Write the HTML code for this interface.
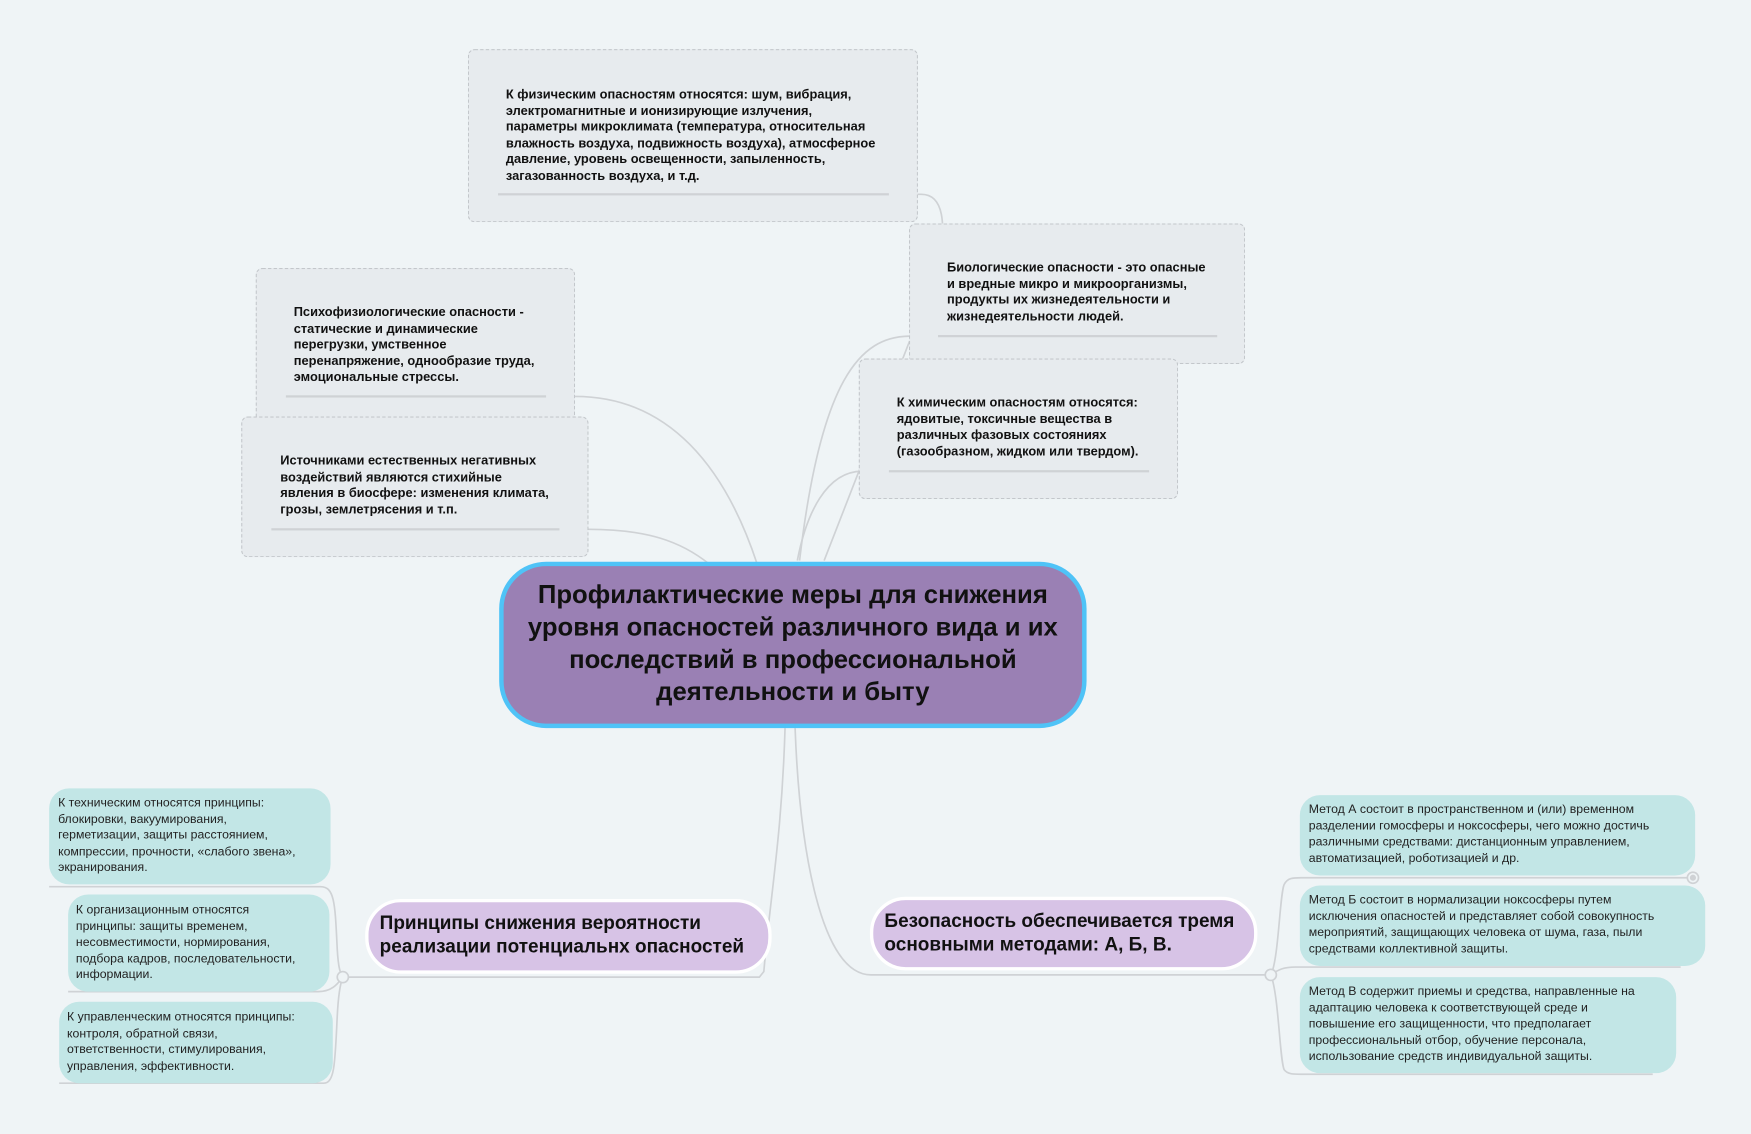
<!DOCTYPE html>
<html><head><meta charset="utf-8"><style>
html,body{margin:0;padding:0;background:#eff4f6;overflow:hidden}
#w{position:absolute;left:0;top:0;width:1568px;height:1015px;transform:scale(1.11671);transform-origin:0 0;font-family:"Liberation Sans",sans-serif}
.b{position:absolute;box-sizing:border-box}
.d{background:#e7ebee;border:1.5px dashed #c3c7cb;border-radius:6px}
.t{position:absolute;white-space:nowrap;color:#111}
.bt{font-weight:bold;font-size:11.5px;line-height:14.6px}
.lf{background:#c2e6e6;border-radius:18px}
.lt{font-size:11px;line-height:14.6px;color:#222}
.sub{background:#d7c3e6;border:3px solid #fff;border-radius:32px}
.st{font-weight:bold;font-size:17px;line-height:21px;color:#111}
svg{position:absolute;left:0;top:0}
</style></head><body><div id="w">
<svg width="1568" height="1015" fill="none" stroke="#cfd2d5" stroke-width="1.5">
<path d="M796,174 L825,174 C845,174 848,200 840,240 L738,502"/>
<path d="M840,301 L815,301 C770,301 735,340 716,502"/>
<path d="M796,422 L772,422 C740,422 722,460 714,502"/>
<path d="M256,355 L515,355 C600,355 650,420 678,505"/>
<path d="M243,474 L527,474 C580,474 610,485 635,505"/>
<path d="M446,174 L796,174"/>
<path d="M840,301 L1090,301"/>
<path d="M703,652 C700,750 690,800 684,870 L680,875 L307,875"/>
<path d="M44,794 L287,794 C300,794 300,810 302,850 C303,868 305,872 307,875"/>
<path d="M61,888 L285,888 C298,888 303,880 307,875"/>
<path d="M53,970 L290,970 C300,970 300,950 302,910 C303,890 305,880 307,875"/>
<path d="M712,652 C716,760 735,873 780,873 L1138,873"/>
<path d="M1138,873 C1145,860 1146,800 1150,792 C1153,786 1158,786 1165,786 L1516,786"/>
<path d="M1138,873 C1145,868 1150,866 1160,866 L1505,866"/>
<path d="M1138,873 C1145,890 1146,950 1150,958 C1153,962 1158,962 1165,962 L1480,962"/>
<circle cx="307" cy="875" r="5" fill="#eff4f6"/>
<circle cx="1138" cy="873" r="5" fill="#eff4f6"/>
<circle cx="1516" cy="786" r="5" fill="#eff4f6"/>
<circle cx="1516" cy="786" r="2" fill="#cfd2d5"/>
</svg>

<div class="b d" style="left:419px;top:44px;width:403px;height:155px"></div>
<div class="t bt" style="left:453px;top:78px">К физическим опасностям относятся: шум, вибрация,<br>электромагнитные и ионизирующие излучения,<br>параметры микроклимата (температура, относительная<br>влажность воздуха, подвижность воздуха), атмосферное<br>давление, уровень освещенности, запыленность,<br>загазованность воздуха, и т.д.</div>
<div class="b" style="left:446px;top:173px;width:350px;height:1.5px;background:#cfd2d5"></div>

<div class="b d" style="left:814px;top:200px;width:301px;height:126px"></div>
<div class="t bt" style="left:848px;top:233px">Биологические опасности - это опасные<br>и вредные микро и микроорганизмы,<br>продукты их жизнедеятельности и<br>жизнедеятельности людей.</div>
<div class="b" style="left:840px;top:300px;width:250px;height:1.5px;background:#cfd2d5"></div>

<div class="b d" style="left:769px;top:321px;width:286px;height:126px"></div>
<div class="t bt" style="left:803px;top:354px">К химическим опасностям относятся:<br>ядовитые, токсичные вещества в<br>различных фазовых состояниях<br>(газообразном, жидком или твердом).</div>
<div class="b" style="left:796px;top:421px;width:233px;height:1.5px;background:#cfd2d5"></div>

<div class="b d" style="left:229px;top:240px;width:286px;height:141px"></div>
<div class="t bt" style="left:263px;top:273px">Психофизиологические опасности -<br>статические и динамические<br>перегрузки, умственное<br>перенапряжение, однообразие труда,<br>эмоциональные стрессы.</div>
<div class="b" style="left:256px;top:354px;width:233px;height:1.5px;background:#cfd2d5"></div>

<div class="b d" style="left:216px;top:373px;width:311px;height:126px"></div>
<div class="t bt" style="left:251px;top:406px">Источниками естественных негативных<br>воздействий являются стихийные<br>явления в биосфере: изменения климата,<br>грозы, землетрясения и т.п.</div>
<div class="b" style="left:243px;top:473px;width:258px;height:1.5px;background:#cfd2d5"></div>

<div class="b" style="left:447px;top:503px;width:526px;height:149px;background:#9a80b4;border:4px solid #4fc3f7;border-radius:42px"></div>
<div class="t" style="left:447px;top:518px;width:526px;text-align:center;font-weight:bold;font-size:23px;line-height:29px;color:#111">Профилактические меры для снижения<br>уровня опасностей различного вида и их<br>последствий в профессиональной<br>деятельности и быту</div>

<div class="b sub" style="left:327px;top:805px;width:364px;height:67px"></div>
<div class="t st" style="left:340px;top:816px">Принципы снижения вероятности<br>реализации потенциальнх опасностей</div>
<div class="b sub" style="left:779px;top:803px;width:347px;height:66px"></div>
<div class="t st" style="left:792px;top:814px">Безопасность обеспечивается тремя<br>основными методами: А, Б, В.</div>

<div class="b lf" style="left:44px;top:706px;width:252px;height:86px"></div>
<div class="t lt" style="left:52px;top:712px">К техническим относятся принципы:<br>блокировки, вакуумирования,<br>герметизации, защиты расстоянием,<br>компрессии, прочности, «слабого звена»,<br>экранирования.</div>
<div class="b lf" style="left:61px;top:801px;width:234px;height:87px"></div>
<div class="t lt" style="left:68px;top:808px">К организационным относятся<br>принципы: защиты временем,<br>несовместимости, нормирования,<br>подбора кадров, последовательности,<br>информации.</div>
<div class="b lf" style="left:53px;top:897px;width:245px;height:73px"></div>
<div class="t lt" style="left:60px;top:904px">К управленческим относятся принципы:<br>контроля, обратной связи,<br>ответственности, стимулирования,<br>управления, эффективности.</div>

<div class="b lf" style="left:1164px;top:712px;width:354px;height:72px"></div>
<div class="t lt" style="left:1172px;top:718px">Метод А состоит в пространственном и (или) временном<br>разделении гомосферы и ноксосферы, чего можно достичь<br>различными средствами: дистанционным управлением,<br>автоматизацией, роботизацией и др.</div>
<div class="b lf" style="left:1164px;top:793px;width:363px;height:72px"></div>
<div class="t lt" style="left:1172px;top:799px">Метод Б состоит в нормализации ноксосферы путем<br>исключения опасностей и представляет собой совокупность<br>мероприятий, защищающих человека от шума, газа, пыли<br>средствами коллективной защиты.</div>
<div class="b lf" style="left:1164px;top:875px;width:337px;height:86px"></div>
<div class="t lt" style="left:1172px;top:881px">Метод В содержит приемы и средства, направленные на<br>адаптацию человека к соответствующей среде и<br>повышение его защищенности, что предполагает<br>профессиональный отбор, обучение персонала,<br>использование средств индивидуальной защиты.</div>
</div></body></html>
